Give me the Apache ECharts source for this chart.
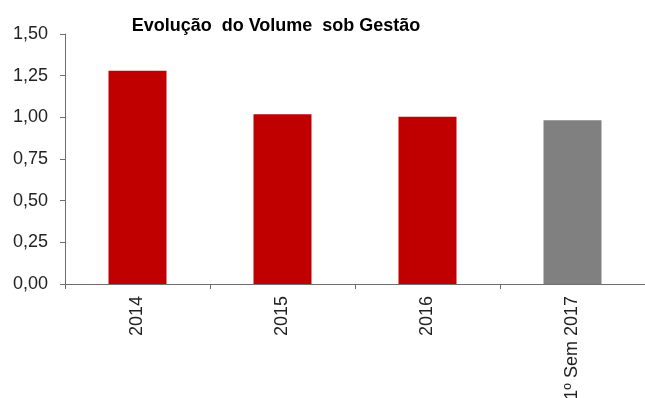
<!DOCTYPE html>
<html>
<head>
<meta charset="utf-8">
<script src="https://cdn.jsdelivr.net/npm/echarts@6/dist/echarts.min.js"></script>
<style>
html,body{margin:0;padding:0;background:#fff;}
#chart{width:645px;height:398px;}
</style>
</head>
<body>
<div id="chart"></div>
<script>
var categories = ['2014', '2015', '2016', '1º Sem 2017'];
var values = [1.28, 1.018, 1.004, 0.982];
var barColors = ['#C00000', '#C00000', '#C00000', '#808080'];
var yTicks = { min: 0, max: 1.5, interval: 0.25 };
var titleText = 'Evolução  do Volume  sob Gestão';

var chart = echarts.init(document.getElementById('chart'), null, { renderer: 'canvas' });
chart.setOption({
  animation: false,
  backgroundColor: '#ffffff',
  title: {
    text: titleText,
    left: 271,
    top: 12,
    textAlign: 'center',
    textStyle: { fontFamily: 'Liberation Sans, Arial', fontSize: 18, fontWeight: 'bold', color: '#000' }
  },
  grid: { left: 65, top: 34, right: 0, height: 250, containLabel: false, outerBoundsMode: 'none' },
  xAxis: {
    type: 'category',
    data: categories,
    boundaryGap: true,
    axisLine: { show: true, lineStyle: { color: '#6e6e6e', width: 1 } },
    axisTick: { show: true, length: 5, lineStyle: { color: '#6e6e6e' } },
    axisLabel: {
      rotate: 90,
      margin: 12,
      color: '#222',
      fontFamily: 'Liberation Sans, Arial',
      fontSize: 18,
      interval: 0
    },
    splitLine: { show: false }
  },
  yAxis: {
    type: 'value',
    min: yTicks.min,
    max: yTicks.max,
    interval: yTicks.interval,
    axisLine: { show: true, lineStyle: { color: '#6e6e6e', width: 1 } },
    axisTick: { show: true, length: 5, lineStyle: { color: '#6e6e6e' } },
    axisLabel: {
      margin: 17,
      color: '#222',
      fontFamily: 'Liberation Sans, Arial',
      fontSize: 18,
      formatter: function (v) { return v.toFixed(2).replace('.', ','); }
    },
    splitLine: { show: false }
  },
  series: [{
    type: 'bar',
    barWidth: '40%',
    data: values.map(function (v, i) {
      return { value: v, itemStyle: { color: barColors[i] } };
    })
  }]
});
</script>
</body>
</html>
